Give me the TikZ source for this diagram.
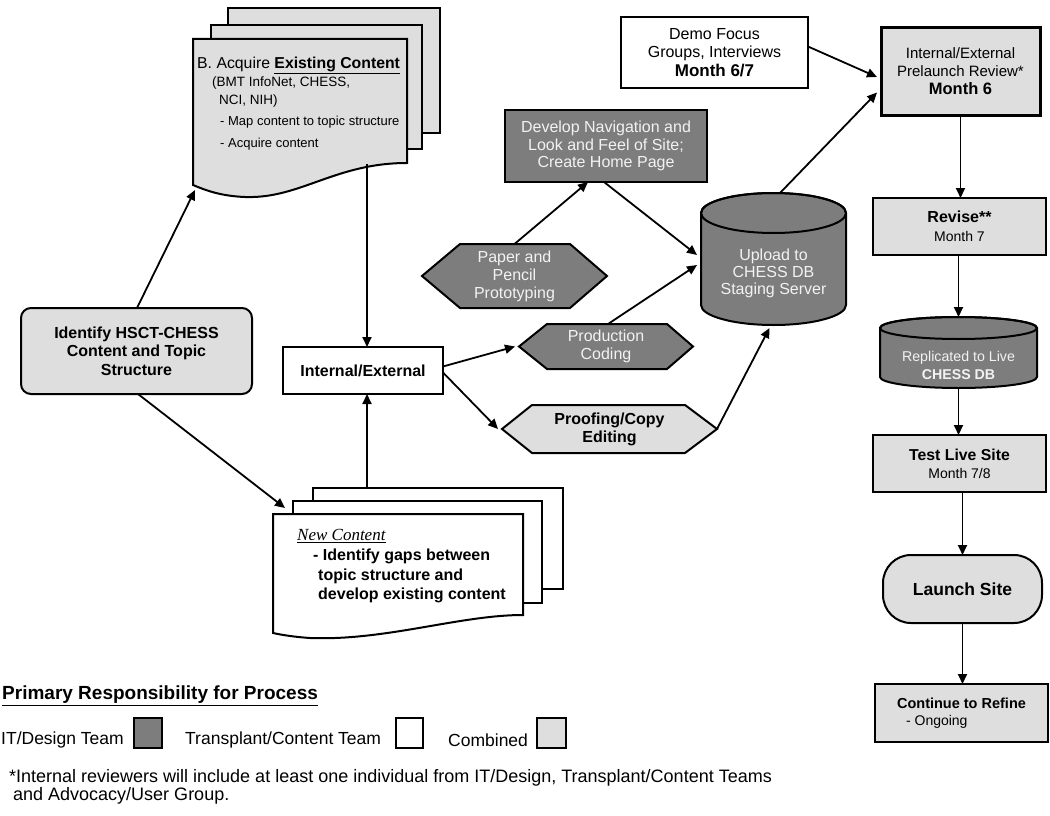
\documentclass[tikz,border=0pt]{standalone}
\usepackage{fontspec}
\setmainfont{Liberation Sans}
\newfontfamily\tnr{Liberation Serif}
\usetikzlibrary{arrows.meta,backgrounds}
\definecolor{darkfill}{RGB}{125,125,125}
\definecolor{lightfill}{RGB}{222,222,222}
\definecolor{wtext}{RGB}{242,242,242}
\tikzset{
  bx/.style={draw=black, line width=2pt, outer sep=0pt},
  itd/.style={bx, fill=darkfill},
  transp/.style={bx, fill=white},
  combined/.style={bx, fill=lightfill},
  holder/.style={outer sep=0pt, inner sep=0pt},
  conn/.style={line width=1.8pt, -{Triangle[length=10pt,width=9pt]}},
  shp/.style={draw=black, line width=2pt},
}
\newcommand\hexa[4]{%
  \path[#4] (#1.west) -- ([xshift=#2]#1.north west) -- ([xshift=-#3]#1.north east)
    -- (#1.east) -- ([xshift=-#3]#1.south east) -- ([xshift=#2]#1.south west) -- cycle;}
\newcommand\cyl[6]{% cx top bot rx ry fill
  \path[shp, fill=#6] ({#1-#4},{#2+#5}) -- ({#1-#4},{#3-#5})
    arc[start angle=180, end angle=0, x radius=#4, y radius=#5]
    -- ({#1+#4},{#2+#5})
    arc[start angle=0, end angle=-180, x radius=#4, y radius=#5] -- cycle;
  \draw[line width=2pt] (#1,{#2+#5}) ellipse[x radius=#4, y radius=#5];}
\begin{document}
\begin{tikzpicture}[x=1pt,y=-1pt]
\useasboundingbox (0,0) rectangle (1050,816);

% ---------- Document A (Acquire Existing Content) ----------
\path[shp, fill=lightfill] (228,8) rectangle (440,133);
\path[shp, fill=lightfill] (211,25) rectangle (422,149);
\path[shp, fill=lightfill] (193,39) -- (407,39) -- (407,163)
   .. controls (335,163) and (300,199) .. (245,197)
   .. controls (220,196) and (205,190) .. (193,185) -- cycle;
\node[anchor=north west, align=left, inner sep=0pt, font=\fontsize{13.5}{18}\selectfont] (docA) at (197,57)
 {{\fontsize{15.8}{18}\selectfont B. Acquire \textbf{\underline{Existing Content}}}\\
  \hspace*{15pt}(BMT InfoNet, CHESS,\\
  \hspace*{22pt}NCI, NIH)\\[3pt]
  {\fontsize{13}{18}\selectfont\hspace*{23pt}- Map content to topic structure}\\[4pt]
  {\fontsize{13}{18}\selectfont\hspace*{23pt}- Acquire content}};
\coordinate (docAin) at (195,190);
\coordinate (docAout) at (367,164);

% ---------- Document B (New Content) ----------
\path[shp, fill=white] (313,488) rectangle (563,589);
\path[shp, fill=white] (293,501) rectangle (542,603);
\path[shp, fill=white] (273,514) -- (523,514) -- (523,615)
   .. controls (460,615) and (385,641) .. (310,638)
   .. controls (295,637) and (282,635) .. (273,633) -- cycle;
\node[anchor=north west, align=left, inner sep=0pt, font=\bfseries\fontsize{16}{19.5}\selectfont] (newc) at (297,529)
 {{\tnr\itshape\mdseries\fontsize{17}{19}\selectfont\underline{New Content}}\\[1pt]
  \hspace*{16pt}- Identify gaps between\\
  \hspace*{21pt}topic structure and\\
  \hspace*{21pt}develop existing content};
\coordinate (newcin) at (285,508);
\coordinate (newcout) at (367,488);

% ---------- Left boxes ----------
\node[combined, rounded corners=10pt, minimum width=231pt, minimum height=86pt, align=center,
      font=\bfseries\fontsize{16}{18.7}\selectfont] (ident) at (136.5,351)
 {Identify HSCT-CHESS\\Content and Topic\\Structure};
\node[transp, minimum width=160pt, minimum height=47pt, font=\bfseries\fontsize{16}{19}\selectfont]
 (ie) at (363,370.5) {Internal/External};

% ---------- IT/Design middle ----------
\node[itd, minimum width=202pt, minimum height=72pt, align=center, text=wtext,
      font=\fontsize{16}{17.5}\selectfont] (nav) at (606,146)
 {Develop Navigation and\\Look and Feel of Site;\\Create Home Page};

\node[holder, minimum width=185pt, minimum height=64pt, align=center, text=wtext,
      font=\fontsize{16}{18}\selectfont] (paper) at (514.5,276) {Paper and\\Pencil\\Prototyping};
\node[holder, minimum width=174pt, minimum height=45pt, align=center, text=wtext,
      font=\fontsize{16}{18}\selectfont] (prod) at (606,346.5) {Production\\Coding};
\node[holder, minimum width=215pt, minimum height=48pt, align=center,
      font=\bfseries\fontsize{16}{18}\selectfont] (proof) at (609.5,429) {Proofing/Copy\\Editing};
\begin{scope}[on background layer]
  \hexa{paper}{38pt}{37pt}{shp, fill=darkfill}
  \hexa{prod}{28pt}{26pt}{shp, fill=darkfill}
  \hexa{proof}{30pt}{32pt}{shp, fill=lightfill}
\end{scope}

% ---------- Upload cylinder ----------
\cyl{773.5}{193}{325}{72.5}{20}{darkfill}
\node[holder, minimum width=145pt, minimum height=132pt] (upload) at (773.5,259) {};
\node[align=center, text=wtext, font=\fontsize{16}{17}\selectfont] (uploadtxt) at (773.5,273)
 {Upload to\\CHESS DB\\Staging Server};

% ---------- Top boxes ----------
\node[transp, minimum width=187pt, minimum height=71pt, align=center,
      font=\fontsize{16}{18.5}\selectfont] (demo) at (714.5,52.5)
 {Demo Focus\\Groups, Interviews\\{\bfseries\fontsize{17}{18.5}\selectfont Month 6/7}};
\node[combined, line width=3pt, minimum width=159pt, minimum height=87pt, align=center,
      font=\fontsize{15}{18}\selectfont] (review) at (960.5,71.5)
 {Internal/External\\Prelaunch Review*\\{\bfseries\fontsize{16.5}{18}\selectfont Month 6}};

% ---------- Right column ----------
\node[combined, minimum width=173pt, minimum height=57pt, align=center,
      font=\fontsize{14}{19}\selectfont] (revise) at (959.5,226.5)
 {{\bfseries\fontsize{16}{19}\selectfont Revise**}\\Month 7};
\cyl{958.5}{317}{388}{78.5}{11}{darkfill}
\node[holder, minimum width=157pt, minimum height=71pt] (repl) at (958.5,352.5) {};
\node[align=center, text=wtext, font=\fontsize{14.2}{18}\selectfont] (repltxt) at (958.5,365)
 {Replicated to Live\\\textbf{CHESS DB}};
\node[combined, minimum width=173pt, minimum height=57pt, align=center,
      font=\fontsize{14}{18}\selectfont] (test) at (959.5,463.5)
 {{\bfseries\fontsize{15.8}{18}\selectfont Test Live Site}\\Month 7/8};
\node[combined, rounded corners=28pt, minimum width=159pt, minimum height=68pt,
      font=\bfseries\fontsize{17.5}{20}\selectfont] (launch) at (962.5,589) {Launch Site};
\node[combined, minimum width=173pt, minimum height=58pt, align=left,
      font=\fontsize{14}{17}\selectfont] (cont) at (961.5,713)
 {{\bfseries\fontsize{14.5}{17}\selectfont Continue to Refine}\\\hspace*{9pt}- Ongoing};

% ---------- Connectors ----------
\draw[conn] (ident.north -| 137,0) -- (docAin);
\draw[conn] (ident.south -| 138,0) -- (newcin);
\draw[conn] (docAout) -- (docAout |- ie.north);
\draw[conn] (newcout) -- (newcout |- ie.south);
\draw[conn] ([yshift=4pt]ie.east) -- ([xshift=-4pt]prod.west);
\draw[conn] ([yshift=-2pt]ie.east) -- ([xshift=-4pt]proof.west);
\draw[conn] (paper.north) -- ([xshift=-18pt]nav.south);
\draw[conn] ([xshift=-2pt]nav.south) -- ([shift={(-4pt,4pt)}]upload.west);
\draw[conn] ([xshift=2pt]prod.north) -- ([shift={(-4pt,-6pt)}]upload.west);
\draw[conn] (proof.east) -- ([shift={(-4pt,-3pt)}]upload.south);
\draw[conn] ([xshift=6.5pt]upload.north) -- ([shift={(-4pt,-21pt)}]review.west);
\draw[conn] ([yshift=6pt]demo.east) -- ([shift={(-4pt,-5.5pt)}]review.west);
\draw[conn] (review.south) -- (review.south |- revise.north);
\draw[conn] (revise.south -| repl.north) -- (repl.north);
\draw[conn] (repl.south) -- (repl.south |- test.north);
\draw[conn] (test.south -| launch.north) -- (launch.north);
\draw[conn] (launch.south) -- (launch.south |- cont.north);

% ---------- Legend ----------
\node[anchor=west, inner sep=0pt, font=\bfseries\fontsize{19}{22}\selectfont] (legtitle) at (2,696)
 {\underline{Primary Responsibility for Process}};
\node[anchor=west, inner sep=0pt, font=\fontsize{17.5}{20}\selectfont] (legit) at (1,740) {IT/Design Team};
\node[itd, minimum width=28pt, minimum height=30pt] (legitbox) at (147.5,733) {};
\node[anchor=west, inner sep=0pt, font=\fontsize{17.5}{20}\selectfont] (legtc) at (185,740) {Transplant/Content Team};
\node[transp, minimum width=27pt, minimum height=30pt] (legtcbox) at (409.5,733) {};
\node[anchor=west, inner sep=0pt, font=\fontsize{17.5}{20}\selectfont] (legcb) at (448,740) {Combined};
\node[combined, minimum width=29pt, minimum height=30pt] (legcbbox) at (551.5,733) {};
\node[anchor=north west, align=left, inner sep=0pt, font=\fontsize{18}{18.5}\selectfont] (foot) at (9,769)
 {*Internal reviewers will include at least one individual from IT/Design, Transplant/Content Teams\\
  \hspace*{4pt}and Advocacy/User Group.};
\end{tikzpicture}
\end{document}
